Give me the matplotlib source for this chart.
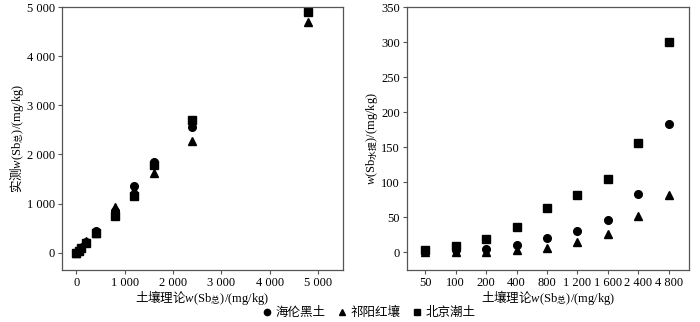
import matplotlib
matplotlib.use('Agg')
import matplotlib.pyplot as plt
from matplotlib.ticker import FuncFormatter
from matplotlib.lines import Line2D

plt.rcParams['font.family'] = ['Liberation Serif', 'Noto Sans CJK SC']
plt.rcParams['mathtext.fontset'] = 'custom'
plt.rcParams['mathtext.rm'] = 'Noto Sans CJK SC'
plt.rcParams['mathtext.it'] = 'Liberation Serif:italic'
plt.rcParams['font.size'] = 9

soils = ['海伦黑土', '祁阳红壤', '北京潮土']
markers = ['o', '^', 's']

# total Sb: theoretical vs measured
sb_added = [0, 50, 100, 200, 400, 800, 1200, 1600, 2400, 4800]
total_hl = [0, 50, 100, 210, 440, 850, 1367, 1837, 2557, 4925]
total_qy = [0, 55, 110, 230, 410, 932, 1286, 1626, 2272, 4687]
total_bj = [0, 45, 95, 200, 400, 741, 1149, 1782, 2700, 4905]

# water-extractable Sb
dose_labels = ['50', '100', '200', '400', '800', '1 200', '1 600', '2 400', '4 800']
water_hl = [2, 3, 5, 10, 20, 31, 46, 84, 183]
water_qy = [1, 1, 1, 3, 7, 15, 26, 52.6, 81.5]
water_bj = [4, 9, 19, 36.5, 64, 82, 105, 156, 300]


def thousands(v, pos):
    return '{:,.0f}'.format(v).replace(',', ' ')


fig = plt.figure(figsize=(7, 3.22), dpi=100)
ax1 = fig.add_axes([62/700, 1-270/322, 281/700, 263/322])
ax2 = fig.add_axes([407/700, 1-270/322, 282/700, 263/322])

ms = 5.5
# squares underneath, circles and triangles drawn over them
order = [2, 0, 1]
left_series = [total_hl, total_qy, total_bj]
for i in order:
    ax1.plot(sb_added, left_series[i], markers[i], color='black', ms=ms, ls='none')
ax1.set_xlim(-300, 5520)
ax1.set_ylim(-350, 5000)
ax1.set_xticks([0, 1000, 2000, 3000, 4000, 5000])
ax1.set_yticks([0, 1000, 2000, 3000, 4000, 5000])
ax1.xaxis.set_major_formatter(FuncFormatter(thousands))
ax1.yaxis.set_major_formatter(FuncFormatter(thousands))
xlab = r'$\mathrm{土壤理论}w$(Sb$_{\mathrm{总}}$)/(mg/kg)'
ax1.set_xlabel(xlab, labelpad=-1)
ax1.set_ylabel(r'$\mathrm{实测}w$(Sb$_{\mathrm{总}}$)/(mg/kg)', labelpad=1)

xpos = range(len(dose_labels))
right_series = [water_hl, water_qy, water_bj]
for i in order:
    ax2.plot(xpos, right_series[i], markers[i], color='black', ms=ms, ls='none')
ax2.set_xlim(-0.6, 8.67)
ax2.set_ylim(-25, 350)
ax2.set_xticks(list(xpos))
ax2.set_xticklabels(dose_labels)
ax2.set_yticks(range(0, 351, 50))
ax2.set_xlabel(xlab, labelpad=-1)
ax2.set_ylabel(r'$w$(Sb$_{\mathrm{水提}}$)/(mg/kg)', labelpad=1)

for ax in (ax1, ax2):
    for sp in ax.spines.values():
        sp.set_color('#555555')
        sp.set_linewidth(0.9)
    ax.tick_params(direction='out', length=3, width=0.8, color='#555555', pad=2)

handles = [Line2D([], [], marker=m, color='black', ls='none', ms=4.5) for m in markers]
fig.legend(handles, soils, loc='center', bbox_to_anchor=(368/700, 1-313/322),
           ncol=3, frameon=False, handletextpad=0.2, columnspacing=0.8,
           handlelength=1.0, fontsize=9)

fig.savefig('out.png', dpi=100)
